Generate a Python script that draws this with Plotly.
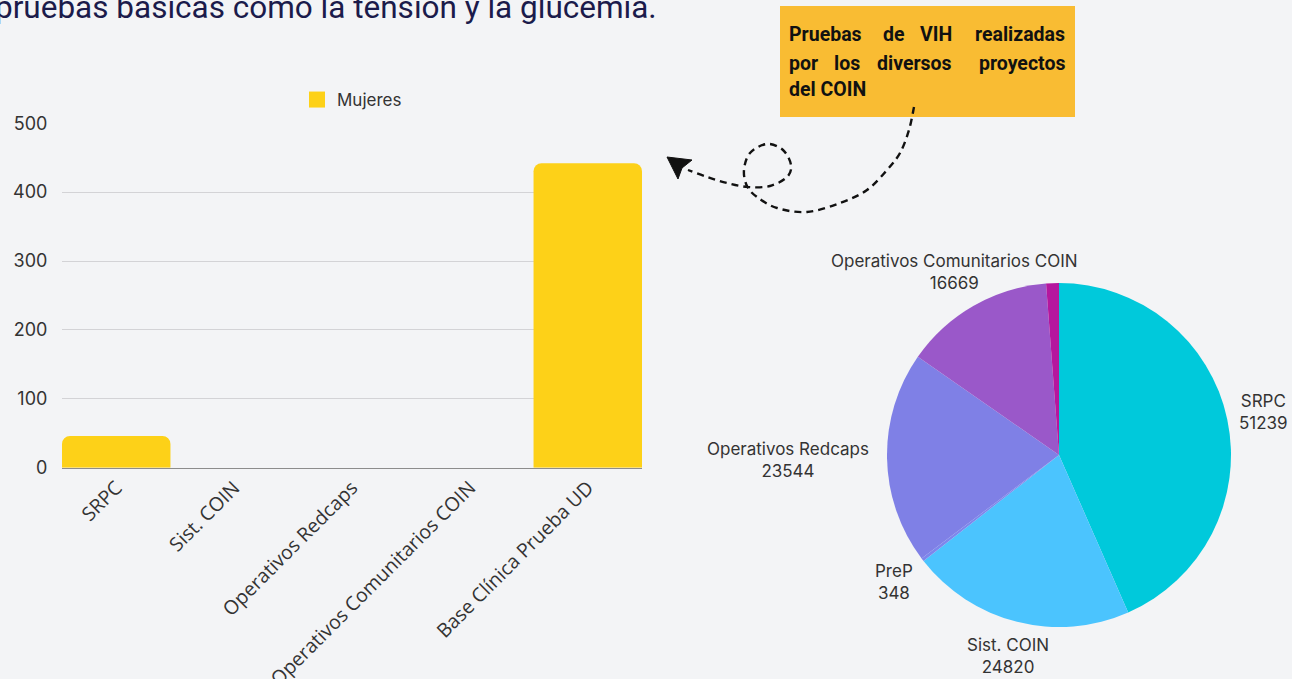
import math
import plotly.graph_objects as go

# ---------------- data ----------------
bar_categories = ["SRPC", "Sist. COIN", "Operativos Redcaps",
                  "Operativos Comunitarios COIN", "Base Clínica Prueba UD"]
bar_series_name = "Mujeres"
bar_values = [46, 0, 0, 0, 442]
y_ticks = [0, 100, 200, 300, 400, 500]

pie_labels = ["SRPC", "Sist. COIN", "PreP", "Operativos Redcaps",
              "Operativos Comunitarios COIN", "Base Clínica Prueba UD"]
pie_values = [51239, 24820, 348, 23544, 16669, 1416]
pie_show_label = [True, True, True, True, True, False]

title_text = "pruebas básicas como la tensión y la glucemia."
box_lines = [["Pruebas", "de", "VIH", "realizadas"],
             ["por", "los", "diversos", "proyectos"],
             ["del COIN"]]

# ---------------- styling ----------------
W, H = 1292, 679
BG = "#f3f4f6"
BAR_COLOR = "#fdd118"
PIE_COLORS = ["#00c9db", "#4bc4fe", "#7d86ec", "#7f80e6", "#9a58c9", "#b5179e"]
TXT = "#333333"
PIE_CX, PIE_CY, PIE_R = 1059, 455, 172   # pie geometry in pixels


def px(x):
    return x / W


def py(y):
    return 1 - y / H


fig = go.Figure()

fig.add_trace(go.Bar(
    x=bar_categories, y=bar_values, name=bar_series_name,
    marker=dict(color=BAR_COLOR, line=dict(width=0)),
    width=0.92, xaxis="x", yaxis="y", showlegend=False, legendgroup="m",
))
fig.add_trace(go.Scatter(
    x=[None], y=[None], mode="markers", name=bar_series_name, legendgroup="m",
    marker=dict(symbol="square", size=16, color=BAR_COLOR), showlegend=True,
    xaxis="x", yaxis="y", hoverinfo="skip",
))

fig.add_trace(go.Pie(
    labels=pie_labels, values=pie_values,
    textinfo="none", sort=False, direction="clockwise", rotation=0,
    marker=dict(colors=PIE_COLORS, line=dict(width=0)),
    domain=dict(x=[px(PIE_CX - PIE_R), px(PIE_CX + PIE_R)],
                y=[py(PIE_CY + PIE_R), py(PIE_CY - PIE_R)]),
    showlegend=False, hoverinfo="label+value",
))

annotations = []

# outside pie labels placed at each slice's mid-angle (computed from the values)
total = sum(pie_values)
cum = 0
CHAR_W, LBL_H, GAP = 9.7, 46, 12
for lab, val, show in zip(pie_labels, pie_values, pie_show_label):
    mid = 2 * math.pi * (cum + val / 2) / total
    cum += val
    if not show:
        continue
    ux, uy = math.sin(mid), -math.cos(mid)
    w = max(len(lab), len(str(val))) * CHAR_W
    edge = min((w / 2) / max(abs(ux), 1e-6), (LBL_H / 2) / max(abs(uy), 1e-6))
    d = PIE_R + GAP + edge
    cx, cy = PIE_CX + d * ux, PIE_CY + d * uy
    annotations.append(dict(text=f"{lab}<br>{val}", xref="paper", yref="paper",
                            x=px(cx), y=py(cy), xanchor="center", yanchor="middle",
                            align="center", showarrow=False,
                            font=dict(family="Inter", size=17, color=TXT)))

# ---------------- decorations ----------------
shapes = []
shapes.append(dict(type="rect", xref="paper", yref="paper",
                   x0=px(780), x1=px(1075), y0=py(117), y1=py(6),
                   fillcolor="#f9bc33", line=dict(width=0), layer="below"))

pts = [(914, 107), (909, 130), (900, 153), (887, 170), (867, 190), (840, 203),
       (807, 212), (777, 208), (757, 197), (747, 186), (744, 170), (750, 153),
       (767, 144), (783, 150), (791, 165), (787, 177), (770, 186), (748, 187),
       (727, 183), (707, 177), (688, 170)]


def catmull_path(p):
    d = f"M {px(p[0][0])},{py(p[0][1])}"
    for i in range(len(p) - 1):
        p0 = p[i - 1] if i > 0 else p[i]
        p1, p2 = p[i], p[i + 1]
        p3 = p[i + 2] if i + 2 < len(p) else p2
        c1 = (p1[0] + (p2[0] - p0[0]) / 6, p1[1] + (p2[1] - p0[1]) / 6)
        c2 = (p2[0] - (p3[0] - p1[0]) / 6, p2[1] - (p3[1] - p1[1]) / 6)
        d += (f" C {px(c1[0])},{py(c1[1])} {px(c2[0])},{py(c2[1])} "
              f"{px(p2[0])},{py(p2[1])}")
    return d


shapes.append(dict(type="path", xref="paper", yref="paper", path=catmull_path(pts),
                   line=dict(color="#111111", width=2.4, dash="7px,5px")))
head = [(667, 157), (692, 160), (682, 168), (678, 179)]
hp = "M " + " L ".join(f"{px(x)},{py(y)}" for x, y in head) + " Z"
shapes.append(dict(type="path", xref="paper", yref="paper", path=hp,
                   fillcolor="#111111", line=dict(color="#111111", width=1)))

annotations.append(dict(text=title_text, xref="paper", yref="paper",
                        x=px(-7), y=py(8), xanchor="left", yanchor="middle",
                        showarrow=False,
                        font=dict(family="Roboto", size=31.5, color="#1b1b4b")))

line_y = [34, 63, 90]
word_left = [[788, 882, 919, None], [788, 833, 876, None], [788]]
BOX_FONT = dict(family="Roboto", size=19.5, color="#111111")
for words, lefts, yy in zip(box_lines, word_left, line_y):
    for w, lx in zip(words, lefts):
        if lx is None:
            annotations.append(dict(text=f"<b>{w}</b>", xref="paper", yref="paper",
                                    x=px(1066), y=py(yy), xanchor="right", yanchor="middle",
                                    showarrow=False, font=BOX_FONT, borderpad=0))
        else:
            annotations.append(dict(text=f"<b>{w}</b>", xref="paper", yref="paper",
                                    x=px(lx), y=py(yy), xanchor="left", yanchor="middle",
                                    showarrow=False, font=BOX_FONT, borderpad=0))

fig.update_layout(
    width=W, height=H,
    margin=dict(l=0, r=0, t=0, b=0),
    paper_bgcolor=BG, plot_bgcolor=BG,
    barcornerradius=8,
    xaxis=dict(domain=[px(62), px(642)], range=[-0.46, 4.46], tickangle=-45,
               tickfont=dict(family="Open Sans", size=19.5, color=TXT),
               showline=True, linecolor="#8c8c8c", linewidth=1,
               showgrid=False, ticks="", automargin=False, fixedrange=True),
    yaxis=dict(domain=[py(467.7), py(123.3)], range=[0, 500], tickvals=y_ticks,
               tickfont=dict(family="Inter", size=18, color=TXT),
               gridcolor="#d3d3d6", gridwidth=1, zeroline=False,
               ticks="outside", ticklen=10, tickcolor="rgba(0,0,0,0)",
               automargin=False, fixedrange=True),
    legend=dict(orientation="h", x=px(352), xanchor="center", y=py(100), yanchor="middle",
                font=dict(family="Inter", size=17, color=TXT), bgcolor="rgba(0,0,0,0)",
                itemsizing="trace"),
    shapes=shapes, annotations=annotations,
    font=dict(family="Roboto", color=TXT),
)

fig.write_html("out.html", config={"displayModeBar": False},
               post_script="document.body.style.margin='0';document.body.style.overflow='hidden';")
